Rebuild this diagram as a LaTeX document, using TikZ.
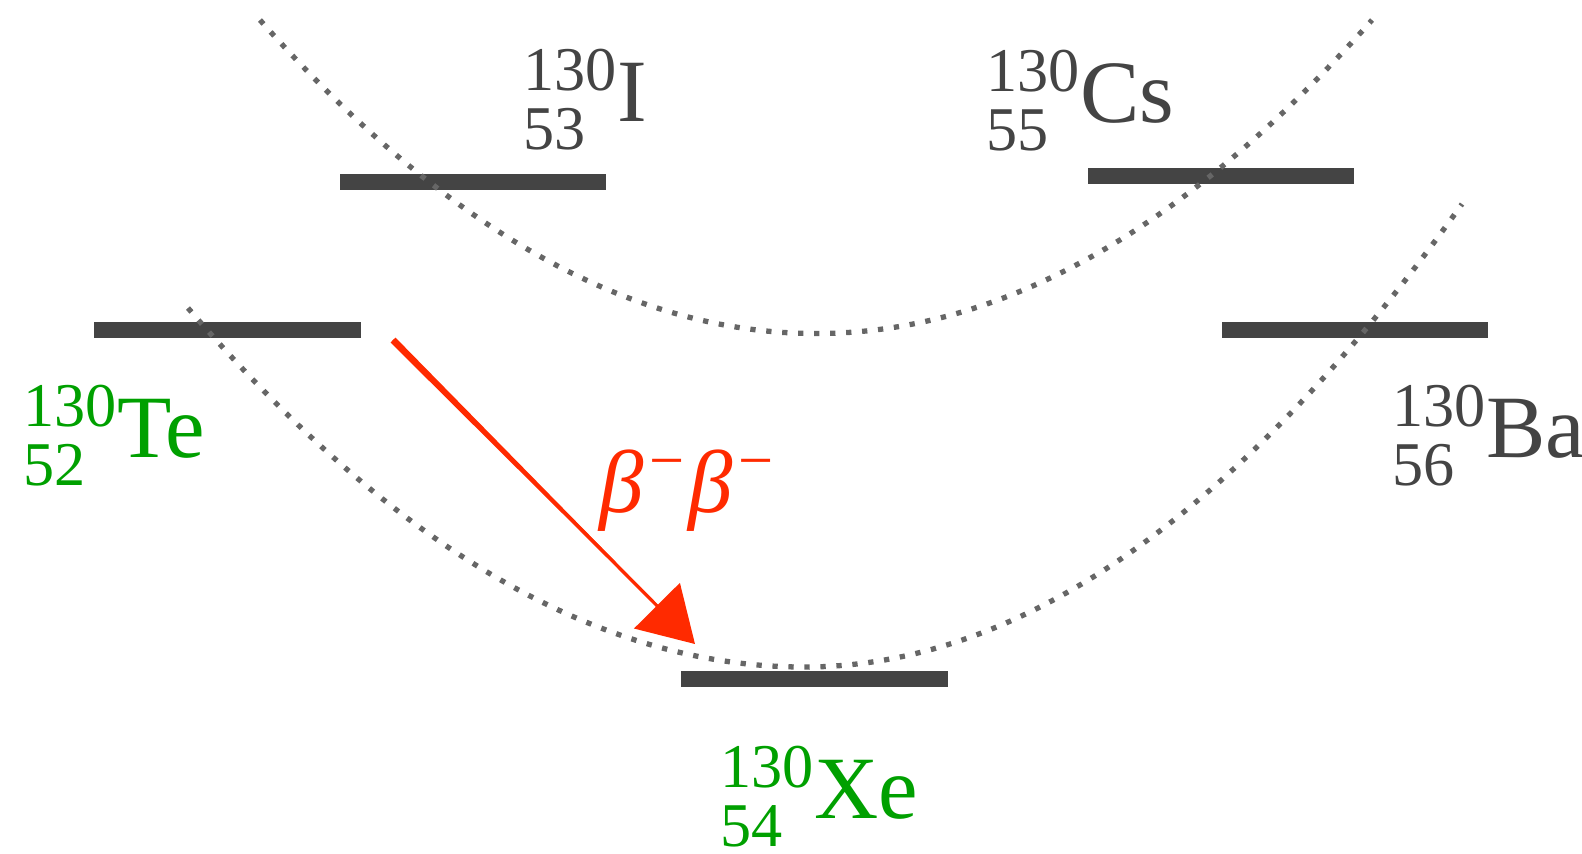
\documentclass[tikz,border=0pt]{standalone}
\usepackage{fontspec}
\setmainfont{Liberation Serif}
\usetikzlibrary{arrows.meta,calc}
\definecolor{bargray}{HTML}{444444}
\definecolor{dotgray}{HTML}{666666}
\definecolor{nucgreen}{HTML}{00A000}
\definecolor{betared}{HTML}{FF2A00}
\newcommand\nuclide[3]{{\fontsize{17.7pt}{18pt}\selectfont\rlap{\raisebox{-8pt}[0pt][0pt]{#2}}\raisebox{8.8pt}[0pt][0pt]{#1}}{\fontsize{25.3pt}{26pt}\selectfont #3}}
\newcommand\supminus{\hspace{1.6pt}\raisebox{8.8pt}{\fontsize{17.7pt}{18pt}\selectfont\upshape −}\hspace{1.2pt}}
\tikzset{
  level/.style={fill=bargray, draw=none, minimum width=2.66cm, minimum height=0.16cm, inner sep=0pt},
  nuc/.style={anchor=base west, inner sep=0pt, text=bargray},
  nucg/.style={nuc, text=nucgreen},
  valley/.style={draw=dotgray, line width=1.5pt, dash pattern=on 1.5pt off 3.05pt},
  decay/.style={draw=betared, line width=0.9pt, -{Triangle[length=0.54cm,width=0.64cm]}}
}
\begin{document}
\begin{tikzpicture}[x=0.01cm,y=-0.01cm]
\useasboundingbox (0,0) rectangle (1582,853);
% energy levels
\node[level] (barI)  at (473,182) {};
\node[level] (barCs) at (1221,176) {};
\node[level] (barTe) at (227.5,330) {};
\node[level] (barBa) at (1355,329.5) {};
\node[level] (barXe) at (814.5,679) {};
% mass parabolas
\draw[valley] (260,20) .. controls (630,438) and (1002,438) .. (1372,20);
\draw[valley] (188,308) .. controls (393.3,547.3) and (598.7,667) .. (804,667)
   .. controls (1022.7,667) and (1243,511) .. (1462,204);
% labels
\node[nuc]  (labI)  at (523,121) {\nuclide{130}{53}{I}};
\node[nuc]  (labCs) at (986,122) {\nuclide{130}{55}{Cs}};
\node[nucg] (labTe) at (23,457) {\nuclide{130}{52}{Te}};
\node[nuc]  (labBa) at (1392,457) {\nuclide{130}{56}{Ba}};
\node[nucg] (labXe) at (720,818) {\nuclide{130}{54}{Xe}};
% double beta decay
\coordinate (from) at (393,340);
\coordinate (to) at (695,644);
\coordinate (hb) at ($(to)!0.53cm!(from)$);
\fill[betared] ($(from)!0.035cm!90:(to)$) -- ($(from)!0.035cm!-90:(to)$)
   -- ($(hb)!0.012cm!90:(from)$) -- ($(hb)!0.012cm!-90:(from)$) -- cycle;
\draw[decay] (from) -- (to);
\node[anchor=base west, inner sep=0pt, text=betared] (beta) at (599,512)
  {\fontsize{25.3pt}{26pt}\selectfont\itshape β\supminus β\supminus};
\end{tikzpicture}
\end{document}
